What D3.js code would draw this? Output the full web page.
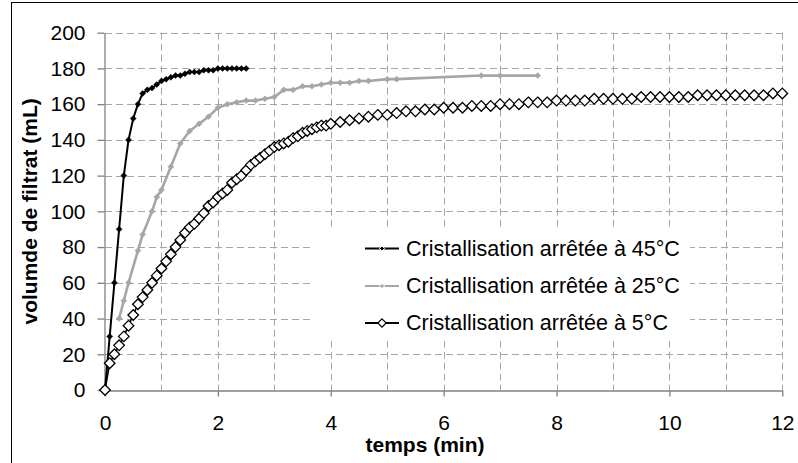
<!DOCTYPE html>
<html><head><meta charset="utf-8">
<script src="https://cdn.jsdelivr.net/npm/d3@7"></script>
<style>
body{margin:0;background:#fff;}
svg{display:block;}
text{font-family:Arial,"Liberation Sans",sans-serif;fill:#000;}
</style>
</head><body>
<svg id="c" width="798" height="463"></svg>
<script>
// ---- data (time in seconds, volume in mL) ----
const xTickLabels = [0, 2, 4, 6, 8, 10, 12];
const yTickLabels = [0, 20, 40, 60, 80, 100, 120, 140, 160, 180, 200];
const xGridValues = [1, 2, 3, 4, 5, 6, 7, 8, 9, 10, 11, 12];
const yGridValues = [20, 40, 60, 80, 100, 120, 140, 160, 180, 200];

const seriesNames = ["Cristallisation arrêtée à 45°C", "Cristallisation arrêtée à 25°C", "Cristallisation arrêtée à 5°C"];

const time45 = [0,5,10,15,20,25,30,35,40,45,50,55,60,65,70,75,80,85,90,95,100,105,110,115,120,125,130,135,140,145,150];
const vol45  = [0,30,60,90,120,140,152,160,166,168,169,171,173,174,175,176,176,177,178,178,178,179,179,179,180,180,180,180,180,180,180];

const time25 = [15,20,25,35,40,50,55,60,70,80,90,100,110,120,130,140,150,160,170,180,190,200,210,220,230,240,250,260,270,280,300,310,400,420,460];
const vol25  = [40,50,60,78,87,100,108,112,125,138,145,149,153,158,160,161,162,162,163,164,168,168,170,170,171,172,172,172,173,173,174,174,176,176,176];

const time5 = [0,5,10,15,20,25,30,35,40,45,50,55,60,65,70,75,80,85,90,95,100,105,110,115,120,125,130,135,140,145,150,155,160,165,170,175,180,185,190,195,200,205,210,215,220,225,230,235,240,
  250,260,270,280,290,300,310,320,330,340,350,360,370,380,390,400,410,420,430,440,450,460,470,480,490,500,510,520,530,540,550,560,570,580,590,600,610,620,630,640,650,660,670,680,690,700,710,720];
const vol5 = [0,15,20,25,30,36,42,48,52,56,60,64,68,72,76,80,84,88,91,93,96,99,103,105,108,110,112,116,118,120,123,126,128,130,132,134,136,137,138,139,141,142,144,145,146,147,148,148,149,
  150,151,152,153,154,154,155,156,156,157,157,158,158,158,159,159,159,160,160,160,161,161,161,162,162,162,162,163,163,163,163,163,164,164,164,164,164,164,165,165,165,165,165,165,165,165,166,166];

// ---- drawing ----
const svg = d3.select("#c");
const x = d3.scaleLinear().domain([0, 12]).range([105, 782.3]);
const y = d3.scaleLinear().domain([0, 200]).range([390, 32.7]);
const FS = 21;
const axisCol = "#808080";
const gridCol = "#a6a6a6";

// outer chart border
svg.append("rect").attr("x", 11.5).attr("y", 2.5).attr("width", 820).attr("height", 480)
  .attr("fill", "#fff").attr("stroke", "#000").attr("stroke-width", 1);

// gridlines
const grid = svg.append("g");
grid.selectAll(".vg").data(xGridValues).join("line")
  .attr("x1", d => Math.round(x(d)) + 0.5).attr("x2", d => Math.round(x(d)) + 0.5)
  .attr("y1", y(200)).attr("y2", y(0))
  .attr("stroke", gridCol).attr("stroke-width", 1).attr("stroke-dasharray", "7,4");
grid.selectAll(".hg").data(yGridValues).join("line")
  .attr("y1", d => Math.round(y(d)) + 0.5).attr("y2", d => Math.round(y(d)) + 0.5)
  .attr("x1", x(0)).attr("x2", x(12))
  .attr("stroke", gridCol).attr("stroke-width", 1).attr("stroke-dasharray", "7,4");

// axes
const xAxis = svg.append("g").attr("transform", `translate(0,${Math.round(y(0)) + 0.5})`)
  .call(d3.axisBottom(x).tickValues(xTickLabels).tickSize(6).tickPadding(19).tickSizeOuter(0));
const yAxis = svg.append("g").attr("transform", `translate(${Math.round(x(0)) - 0.5},0)`)
  .call(d3.axisLeft(y).tickValues(yTickLabels).tickSize(7).tickPadding(12).tickSizeOuter(0));
[xAxis, yAxis].forEach(a => {
  a.select(".domain").attr("stroke", axisCol).attr("stroke-width", 1.3);
  a.selectAll(".tick line").attr("stroke", axisCol).attr("stroke-width", 1.3);
  a.selectAll(".tick text").attr("font-size", FS).attr("font-family", "Arial, 'Liberation Sans', sans-serif").attr("fill", "#000");
});

// axis titles
svg.append("text").attr("x", 425).attr("y", 452)
  .attr("text-anchor", "middle").attr("font-size", FS).attr("font-weight", "bold").text("temps (min)");
svg.append("text").attr("transform", `translate(37,${(y(0) + y(200)) / 2}) rotate(-90)`)
  .attr("text-anchor", "middle").attr("font-size", FS).attr("font-weight", "bold").text("volumde de filtrat (mL)");

// series
const diamond = (r) => `M0,${-r}L${r},0L0,${r}L${-r},0Z`;
const line = d3.line().x(d => x(d[0] / 60)).y(d => y(d[1]));
const series = [
  {t: time45, v: vol45, color: "#000", width: 2, r: 3, fill: "#000", mstroke: "#000", msw: 0.5},
  {t: time25, v: vol25, color: "#a6a6a6", width: 2.6, r: 3, fill: "#a6a6a6", mstroke: "#a6a6a6", msw: 0.5},
  {t: time5, v: vol5, color: "#000", width: 1.6, r: 5.3, fill: "#fff", mstroke: "#000", msw: 1.3}
];
const plot = svg.append("g");
series.forEach(s => {
  const pts = s.t.map((t, i) => [t, s.v[i]]);
  plot.append("path").datum(pts).attr("d", line).attr("fill", "none")
    .attr("stroke", s.color).attr("stroke-width", s.width).attr("stroke-linejoin", "round");
});
series.forEach(s => {
  const pts = s.t.map((t, i) => [t, s.v[i]]);
  plot.append("g").selectAll("path").data(pts).join("path")
    .attr("transform", d => `translate(${x(d[0] / 60)},${y(d[1])})`)
    .attr("d", diamond(s.r)).attr("fill", s.fill).attr("stroke", s.mstroke).attr("stroke-width", s.msw);
});

// legend
const leg = svg.append("g");
leg.append("rect").attr("x", 310).attr("y", 229).attr("width", 380).attr("height", 112).attr("fill", "#fff");
const rowY = [248, 285.5, 322.5];
series.forEach((s, i) => {
  const g = leg.append("g").attr("transform", `translate(0,${rowY[i]})`);
  g.append("line").attr("x1", 365).attr("x2", 399).attr("y1", 0.5).attr("y2", 0.5)
    .attr("stroke", s.color).attr("stroke-width", i === 2 ? 1.8 : 2.2);
  g.append("path").attr("transform", "translate(382,0.5)")
    .attr("d", diamond(i === 2 ? 4.2 : 2.6))
    .attr("fill", s.fill).attr("stroke", i === 2 ? "#000" : "#fff").attr("stroke-width", i === 2 ? 1.2 : 1);
  g.append("text").attr("x", 406).attr("y", 7.5).attr("font-size", 21.5).text(seriesNames[i]);
});
</script>
</body></html>
